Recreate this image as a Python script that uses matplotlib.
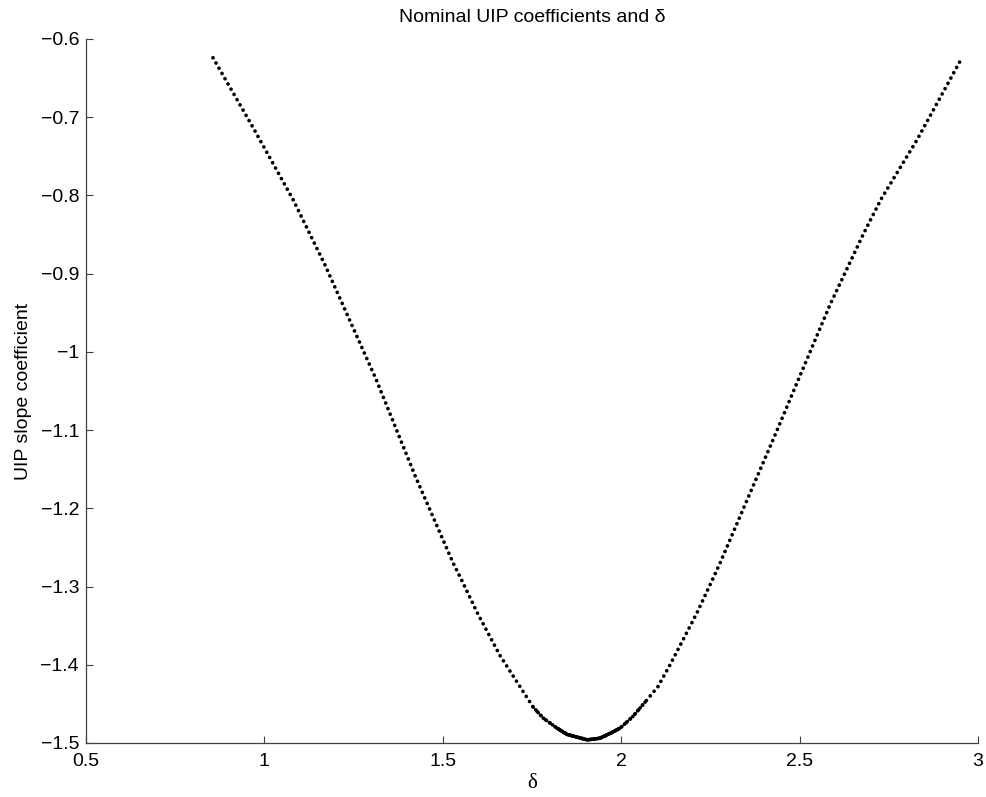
import matplotlib
matplotlib.use('Agg')
import matplotlib.pyplot as plt

# values
delta = [0.856, 0.968, 1.080, 1.170, 1.313, 1.422, 1.529, 1.551, 1.596,
         1.660, 1.753, 1.781, 1.820, 1.848, 1.905, 1.940, 1.968, 1.997,
         2.033, 2.072, 2.103, 2.137, 2.212,
         2.257, 2.277, 2.355, 2.425, 2.496, 2.585, 2.678, 2.728, 2.829, 2.955]
uip_slope = [-0.624, -0.713, -0.805, -0.889, -1.035, -1.158, -1.270, -1.290, -1.333,
             -1.388, -1.454, -1.468, -1.481, -1.489, -1.496, -1.494, -1.488, -1.481,
             -1.466, -1.445, -1.428, -1.400, -1.334,
             -1.290, -1.270, -1.187, -1.113, -1.036, -0.940, -0.850, -0.805, -0.729, -0.624]

xticks = [0.5, 1, 1.5, 2, 2.5, 3]
xtick_labels = ['0.5', '1', '1.5', '2', '2.5', '3']
yticks = [-1.5, -1.4, -1.3, -1.2, -1.1, -1.0, -0.9, -0.8, -0.7, -0.6]
ytick_labels = ['\u22121.5', '\u22121.4', '\u22121.3', '\u22121.2', '\u22121.1', '\u22121',
                '\u22120.9', '\u22120.8', '\u22120.7', '\u22120.6']

plt.rcParams['font.family'] = ['Liberation Sans', 'DejaVu Sans']

fig = plt.figure(figsize=(9.87, 7.97), dpi=100)
ax = fig.add_axes([0.0871, 0.0678, 0.9038, 0.8833])

ax.plot(delta, uip_slope, color='black', linewidth=2.7,
        linestyle=(0, (0.01, 1.6)), dash_capstyle='round')
# the flat bottom is sampled densely, so the dots run together there
ax.plot(delta[10:20], uip_slope[10:20], color='black', linewidth=2.7,
        linestyle=(0, (0.01, 1.0)), dash_capstyle='round')
ax.plot(delta[12:18], uip_slope[12:18], color='black', linewidth=2.7,
        linestyle=(0, (0.01, 0.45)), dash_capstyle='round')

ax.set_xlim(0.5, 3)
ax.set_ylim(-1.5, -0.6)
ax.set_xticks(xticks)
ax.set_xticklabels(xtick_labels)
ax.set_yticks(yticks)
ax.set_yticklabels(ytick_labels)

for side in ['top', 'right']:
    ax.spines[side].set_visible(False)
for side in ['left', 'bottom']:
    ax.spines[side].set_color('#404040')
    ax.spines[side].set_linewidth(0.9)

ax.tick_params(direction='in', length=5, width=0.8, color='#404040',
               labelsize=14, labelcolor='black')
ax.tick_params(axis='x', pad=7)
ax.tick_params(axis='y', pad=5)

ax.set_title('Nominal UIP coefficients and \u03b4', fontsize=14, pad=12)
ax.set_xlabel('\u03b4', fontsize=15, family=['Liberation Serif', 'DejaVu Serif'], labelpad=3)
ax.set_ylabel('UIP slope coefficient', fontsize=14, labelpad=6)

plt.savefig('out.png', dpi=100)
plt.close()
